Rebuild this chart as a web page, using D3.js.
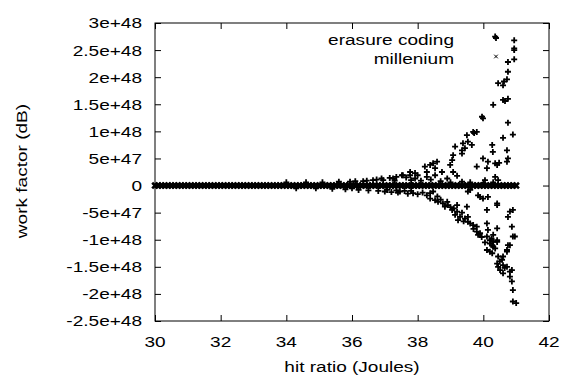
<!DOCTYPE html>
<html>
<head>
<meta charset="utf-8">
<script src="https://cdn.jsdelivr.net/npm/d3@7"></script>
<style>
  body { margin: 0; background: #fff; }
  text { font-family: "Liberation Sans", Arial, sans-serif; fill: #000; }
</style>
</head>
<body>
<svg id="chart" width="566" height="378"></svg>
<script>
// axis setup
let xTicks = [30, 32, 34, 36, 38, 40, 42];
let yTicks = [-2.5e48, -2e48, -1.5e48, -1e48, -5e47, 0, 5e47, 1e48, 1.5e48, 2e48, 2.5e48, 3e48];
let yTickLabels = ['-2.5e+48', '-2e+48', '-1.5e+48', '-1e+48', '-5e+47', '0', '5e+47', '1e+48', '1.5e+48', '2e+48', '2.5e+48', '3e+48'];
let seriesNames = ['erasure coding', 'millenium'];

// erasure coding: [hit ratio, work factor]
let erasure = [
  [40.36, 27.5e47], [40.94, 26.8e47], [40.94, 25.3e47], [40.94, 25.0e47], [40.75, 22.8e47], [40.94, 23.3e47],
  [40.75, 21.0e47], [40.45, 18.9e47], [40.63, 19.2e47], [40.72, 19.6e47], [40.60, 18.5e47], [40.60, 15.8e47],
  [40.75, 16.0e47], [40.30, 14.9e47], [39.96, 12.7e47], [40.66, 15.6e47], [39.99, 12.4e47], [40.75, 11.6e47],
  [40.90, 9.4e47], [40.60, 8.8e47], [39.80, 9.9e47], [39.72, 9.7e47], [39.69, 9.9e47], [39.50, 9.3e47],
  [39.53, 8.1e47], [39.38, 7.8e47], [39.65, 7.5e47], [39.44, 6.9e47], [39.35, 6.5e47], [39.14, 7.2e47],
  [39.08, 5.6e47], [39.35, 5.9e47], [40.27, 7.5e47], [40.29, 6.2e47], [40.72, 6.5e47], [40.75, 5.0e47],
  [40.72, 4.4e47], [39.99, 5.0e47], [40.14, 4.4e47], [40.36, 4.1e47], [40.48, 4.2e47], [40.42, 3.8e47],
  [39.80, 3.5e47], [40.11, 3.2e47], [39.05, 4.7e47], [38.99, 3.8e47], [39.08, 2.5e47], [39.20, 1.8e47],
  [38.59, 4.4e47], [38.47, 4.1e47], [38.38, 3.8e47], [38.22, 3.5e47], [38.53, 3.2e47], [38.28, 2.5e47],
  [38.74, 2.5e47], [38.53, 1.9e47], [38.28, 1.6e47], [38.90, 1.3e47], [37.92, 2.3e47], [37.77, 1.9e47],
  [37.92, 1.3e47], [37.55, 1.9e47], [40.05, 1.0e47], [40.36, 1.6e47], [40.45, 1.0e47], [39.35, 0.7e47],
  [37.77, 2.5e47], [38.00, 1.9e47], [37.52, 1.9e47], [37.25, 1.3e47], [36.95, 1.0e47], [36.64, 1.0e47],
  [36.34, 0.8e47], [35.94, 0.7e47],
  [37.30, 0.9e47], [37.80, 1.0e47], [38.10, 0.9e47], [38.40, 1.1e47], [38.70, 0.8e47], [39.00, 0.6e47],
  [39.60, 0.6e47], [40.00, 0.5e47], [40.30, 0.6e47], [36.00, -0.5e47],
  [34.00, 0.6e47], [34.30, -0.5e47], [34.60, 0.6e47], [34.90, -0.5e47], [35.10, 0.6e47], [35.40, -0.6e47],
  [35.60, 0.7e47], [35.80, -0.7e47], [36.10, 0.8e47], [36.20, -0.8e47], [36.45, 0.9e47], [36.50, -0.9e47],
  [36.75, 1.1e47], [36.80, -1.0e47], [36.90, 1.3e47], [37.00, -1.1e47], [37.15, 1.4e47], [37.20, -1.2e47],
  [37.35, 1.6e47], [37.40, -1.3e47], [37.65, 1.5e47], [37.70, -1.5e47], [37.35, -0.9e47], [37.60, -1.0e47],
  [37.07, -0.8e47], [37.46, -1.1e47], [37.86, -1.4e47], [38.28, -1.8e47], [38.38, -2.4e47], [38.53, -2.7e47],
  [38.62, -3.0e47], [38.77, -3.3e47], [38.83, -3.9e47], [38.92, -3.6e47], [39.05, -4.5e47], [39.20, -4.8e47],
  [39.14, -5.4e47], [39.29, -5.8e47], [39.23, -6.4e47], [39.44, -6.1e47], [39.53, -6.7e47], [39.60, -7.0e47],
  [39.69, -7.3e47], [39.80, -7.6e47], [39.80, -8.5e47], [39.90, -8.8e47], [39.84, -9.1e47], [40.11, -9.4e47],
  [40.20, -10.1e47], [40.30, -10.4e47], [40.27, -11.0e47], [40.42, -10.1e47], [40.36, -11.6e47], [40.20, -12.2e47],
  [40.11, -11.9e47], [40.30, -9.1e47], [40.14, -8.2e47], [40.42, -7.9e47], [40.11, -7.0e47], [40.11, -4.5e47],
  [39.99, -2.4e47], [40.14, -2.1e47], [39.84, -1.8e47], [40.42, -3.3e47], [39.53, -1.1e47], [39.50, -3.9e47],
  [39.53, -5.8e47], [39.20, -3.6e47], [38.38, -1.4e47], [38.47, -1.1e47], [40.81, -4.8e47], [40.90, -4.5e47],
  [40.75, -5.8e47], [40.87, -7.6e47], [40.90, -9.4e47], [40.96, -9.4e47], [40.81, -11.0e47], [40.72, -11.9e47],
  [40.60, -13.1e47], [39.60, -0.8e47], [39.90, -2.1e47], [40.42, -3.6e47],
  [40.20, -10.7e47], [40.30, -11.3e47], [40.42, -10.4e47], [40.27, -12.5e47], [40.45, -13.1e47], [40.57, -13.7e47],
  [40.42, -14.4e47], [40.60, -14.7e47], [40.51, -15.6e47], [40.72, -15.0e47], [40.81, -15.9e47], [40.75, -11.0e47],
  [40.72, -12.2e47], [40.87, -15.6e47], [40.81, -16.8e47], [40.87, -17.7e47], [40.90, -19.3e47], [40.90, -21.4e47],
  [41.00, -21.7e47], [40.60, -16.2e47], [40.45, -15.0e47],
  [37.80, -1.0e47], [38.00, -1.6e47], [38.15, -1.3e47], [38.60, -2.0e47], [38.70, -2.6e47], [38.90, -3.0e47],
  [39.00, -4.0e47], [39.10, -4.2e47], [39.35, -5.0e47], [39.40, -6.6e47], [39.70, -8.0e47], [39.95, -9.5e47],
  [40.05, -10.5e47], [40.25, -9.8e47], [40.50, -14.0e47], [40.65, -15.2e47]
];

// millenium: flat run along zero
let millenium = [
  [30.0, 0], [30.1, 0], [30.2, 0], [30.3, 0], [30.4, 0], [30.5, 0], [30.6, 0], [30.7, 0], [30.8, 0], [30.9, 0],
  [31.0, 0], [31.1, 0], [31.2, 0], [31.3, 0], [31.4, 0], [31.5, 0], [31.6, 0], [31.7, 0], [31.8, 0], [31.9, 0],
  [32.0, 0], [32.1, 0], [32.2, 0], [32.3, 0], [32.4, 0], [32.5, 0], [32.6, 0], [32.7, 0], [32.8, 0], [32.9, 0],
  [33.0, 0], [33.1, 0], [33.2, 0], [33.3, 0], [33.4, 0], [33.5, 0], [33.6, 0], [33.7, 0], [33.8, 0], [33.9, 0],
  [34.0, 0], [34.1, 0], [34.2, 0], [34.3, 0], [34.4, 0], [34.5, 0], [34.6, 0], [34.7, 0], [34.8, 0], [34.9, 0],
  [35.0, 0], [35.1, 0], [35.2, 0], [35.3, 0], [35.4, 0], [35.5, 0], [35.6, 0], [35.7, 0], [35.8, 0], [35.9, 0],
  [36.0, 0], [36.1, 0], [36.2, 0], [36.3, 0], [36.4, 0], [36.5, 0], [36.6, 0], [36.7, 0], [36.8, 0], [36.9, 0],
  [37.0, 0], [37.1, 0], [37.2, 0], [37.3, 0], [37.4, 0], [37.5, 0], [37.6, 0], [37.7, 0], [37.8, 0], [37.9, 0],
  [38.0, 0], [38.1, 0], [38.2, 0], [38.3, 0], [38.4, 0], [38.5, 0], [38.6, 0], [38.7, 0], [38.8, 0], [38.9, 0],
  [39.0, 0], [39.1, 0], [39.2, 0], [39.3, 0], [39.4, 0], [39.5, 0], [39.6, 0], [39.7, 0], [39.8, 0], [39.9, 0],
  [40.0, 0], [40.1, 0], [40.2, 0], [40.3, 0], [40.4, 0], [40.5, 0], [40.6, 0], [40.7, 0], [40.8, 0], [40.9, 0],
  [41.0, 0]
];

let margin = { top: 23, right: 17, bottom: 57, left: 155 };
let width = 566 - margin.left - margin.right, height = 378 - margin.top - margin.bottom;
let stretch = 1.27; // the glyphs in the picture are drawn wide
let fontSize = 15;

let svg = d3.select('#chart');
let g = svg.append('g').attr('transform', `translate(${margin.left}, ${margin.top})`);

let x = d3.scaleLinear().domain([30, 42]).range([0, width]);
let y = d3.scaleLinear().domain([-2.5e48, 3e48]).range([height, 0]);

// tick marks point inward, mirrored on all four sides
let tickLen = 6;
let axes = [
  { axis: d3.axisBottom(x).tickValues(xTicks).tickSize(-tickLen).tickFormat(''), at: `translate(0, ${height})` },
  { axis: d3.axisTop(x).tickValues(xTicks).tickSize(-tickLen).tickFormat(''), at: 'translate(0, 0)' },
  { axis: d3.axisLeft(y).tickValues(yTicks).tickSize(-tickLen).tickFormat(''), at: 'translate(0, 0)' },
  { axis: d3.axisRight(y).tickValues(yTicks).tickSize(-tickLen).tickFormat(''), at: `translate(${width}, 0)` }
];
for (const a of axes) {
  let ax = g.append('g').attr('transform', a.at).call(a.axis);
  ax.select('.domain').remove();
  ax.selectAll('line').attr('stroke', '#000');
}

g.append('rect')
  .attr('width', width).attr('height', height)
  .attr('fill', 'none').attr('stroke', '#000').attr('stroke-width', 1);

// tick labels
g.selectAll('.ylab').data(yTicks).enter().append('text')
  .attr('class', 'ylab')
  .attr('transform', d => `translate(-13, ${y(d)}) scale(${stretch}, 1)`)
  .attr('dy', '0.36em')
  .attr('text-anchor', 'end')
  .style('font-size', fontSize + 'px')
  .text((d, i) => yTickLabels[i]);

g.selectAll('.xlab').data(xTicks).enter().append('text')
  .attr('class', 'xlab')
  .attr('transform', d => `translate(${x(d)}, ${height + 26}) scale(${stretch}, 1)`)
  .attr('text-anchor', 'middle')
  .style('font-size', fontSize + 'px')
  .text(d => d);

// axis titles
svg.append('text')
  .attr('transform', `translate(${margin.left + width / 2}, 372) scale(${stretch}, 1)`)
  .attr('text-anchor', 'middle')
  .style('font-size', fontSize + 'px')
  .text('hit ratio (Joules)');

svg.append('text')
  .attr('transform', `translate(27, 171) rotate(-90) scale(${stretch}, 1)`)
  .attr('text-anchor', 'middle')
  .style('font-size', fontSize + 'px')
  .text('work factor (dB)');

let plus = 'M-3,0H3M0,-3V3';
let cross = 'M-2.8,-2.8L2.8,2.8M-2.8,2.8L2.8,-2.8';

g.selectAll('.mil').data(millenium).enter().append('path')
  .attr('class', 'mil')
  .attr('d', cross)
  .attr('transform', d => `translate(${x(d[0])}, ${y(d[1])})`)
  .attr('stroke', '#000').attr('stroke-width', 2.6).attr('fill', 'none');

g.selectAll('.era').data(erasure).enter().append('path')
  .attr('class', 'era')
  .attr('d', plus)
  .attr('transform', d => `translate(${x(d[0])}, ${y(d[1])})`)
  .attr('stroke', '#000').attr('stroke-width', 1.8).attr('fill', 'none');

// legend
let legend = svg.selectAll('.leg').data(seriesNames).enter().append('g')
  .attr('class', 'leg')
  .attr('transform', (d, i) => `translate(454, ${45 + i * 18.5})`);
legend.append('text')
  .attr('transform', `scale(${stretch}, 1)`)
  .attr('text-anchor', 'end')
  .style('font-size', fontSize + 'px')
  .text(d => d);
legend.append('path')
  .attr('d', (d, i) => i === 0 ? plus : 'M-1.8,-1.8L1.8,1.8M-1.8,1.8L1.8,-1.8')
  .attr('transform', 'translate(42, -7)')
  .attr('stroke', '#000').attr('stroke-width', (d, i) => i === 0 ? 1.8 : 1).attr('fill', 'none');
</script>
</body>
</html>
